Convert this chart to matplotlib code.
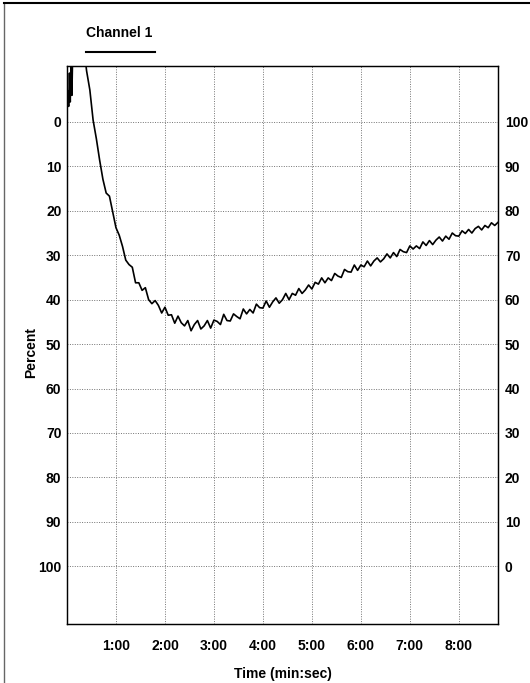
import matplotlib.pyplot as plt
from matplotlib.lines import Line2D

# time in seconds, percent values (left axis, inverted)
time_s = [0, 1, 2, 3, 4, 5, 6, 7, 8, 12, 16, 20,
          24, 28, 32, 36, 40, 44, 48, 52, 56, 60, 64, 68, 72, 76, 80, 84, 88, 92, 96, 100,
          104, 108, 112, 116, 120, 124, 128, 132, 136, 140, 144, 148, 152, 156, 160, 164,
          168, 172, 176, 180, 184, 188, 192, 196, 200, 204, 208, 212, 216, 220, 224, 228,
          232, 236, 240, 244, 248, 252, 256, 260, 264, 268, 272, 276, 280, 284, 288, 292,
          296, 300, 304, 308, 312, 316, 320, 324, 328, 332, 336, 340, 344, 348, 352, 356,
          360, 364, 368, 372, 376, 380, 384, 388, 392, 396, 400, 404, 408, 412, 416, 420,
          424, 428, 432, 436, 440, 444, 448, 452, 456, 460, 464, 468, 472, 476, 480, 484,
          488, 492, 496, 500, 504, 508, 512, 516, 520, 524, 528]
percent = [-2.5, -7, -3.5, -11, -4.5, -14, -6, -16, -20, -24, -25, -18,
           -11.5, -7.2, -0.4, 3.8, 8.6, 12.9, 16.0, 16.7, 20.2, 23.8, 25.5, 28.0, 31.1, 32.1,
           32.7, 36.2, 36.2, 37.9, 37.3, 40.0,
           40.9, 40.2, 41.3, 43.0, 41.7, 43.5, 43.4, 45.3, 43.7, 45.2, 45.9, 44.7, 47.0, 45.6,
           44.7, 46.6,
           45.9, 44.7, 46.4, 44.6, 44.9, 45.6, 43.3, 44.7, 44.8, 43.2, 43.8, 44.3, 42.1, 43.2,
           42.2, 43.0,
           41.0, 41.8, 41.9, 40.3, 41.7, 40.5, 39.6, 40.8, 40.0, 38.6, 40.0, 38.6, 39.0, 37.5,
           38.6, 37.8,
           36.7, 37.6, 36.1, 36.5, 35.1, 36.2, 35.1, 35.7, 34.1, 34.7, 35.0, 33.2, 33.7, 33.8,
           32.2, 33.4,
           32.2, 32.6, 31.3, 32.4, 31.3, 30.6, 31.5, 30.8, 29.7, 30.6, 29.4, 30.3, 28.7, 29.2,
           29.4, 27.9,
           28.6, 27.9, 28.5, 27.0, 27.8, 26.7, 27.6, 26.6, 25.9, 26.8, 25.7, 26.4, 25.0, 25.6,
           25.7, 24.5,
           25.1, 24.2, 25.0, 24.0, 23.5, 24.3, 23.3, 23.8, 22.7, 23.3, 22.6]

x_ticks = [60, 120, 180, 240, 300, 360, 420, 480]
x_labels = ['1:00', '2:00', '3:00', '4:00', '5:00', '6:00', '7:00', '8:00']
left_ticks = [0, 10, 20, 30, 40, 50, 60, 70, 80, 90, 100]

plt.rcParams['font.family'] = ['Liberation Sans', 'DejaVu Sans']
plt.rcParams['font.weight'] = 'bold'
plt.rcParams['font.size'] = 10

fig = plt.figure(figsize=(5.3, 6.83), dpi=100)
ax = fig.add_axes([0.1264, 0.0864, 0.8132, 0.817])

ax.plot(time_s, percent, color='black', lw=1.2)

ax.set_xlim(0, 528)
ax.set_ylim(113, -12.6)
ax.set_xticks(x_ticks)
ax.set_xticklabels(x_labels)
ax.set_yticks(left_ticks)
ax.grid(True, color='0.45', linestyle=(0, (1, 1.5)), linewidth=0.7)
ax.tick_params(length=0, pad=4)
ax.tick_params(axis='x', pad=11)
for s in ax.spines.values():
    s.set_color('0.1')
    s.set_linewidth(1.0)

# right axis: 100 - left
ax2 = ax.twinx()
ax2.set_ylim(100 - 113, 100 + 12.6)
ax2.set_yticks(left_ticks)
ax2.tick_params(length=0, pad=5)

ax.set_xlabel('Time (min:sec)', labelpad=10, fontweight='bold')
fig.text(31.5 / 530, 1 - 352 / 683, 'Percent', rotation=90, ha='center', va='center')

# legend entry
fig.text(119 / 530, 1 - 33 / 683, 'Channel 1', ha='center', va='center')
fig.add_artist(Line2D([86 / 530, 155 / 530], [1 - 52 / 683, 1 - 52 / 683], color='black', lw=1.5))

# outer frame (left and top visible in the scan)
fig.add_artist(Line2D([4 / 530, 4 / 530], [0, 1 - 3 / 683], color='0.4', lw=1.0))
fig.add_artist(Line2D([4 / 530, 1], [1 - 3 / 683, 1 - 3 / 683], color='black', lw=1.5))

plt.savefig('out.png', dpi=100)
